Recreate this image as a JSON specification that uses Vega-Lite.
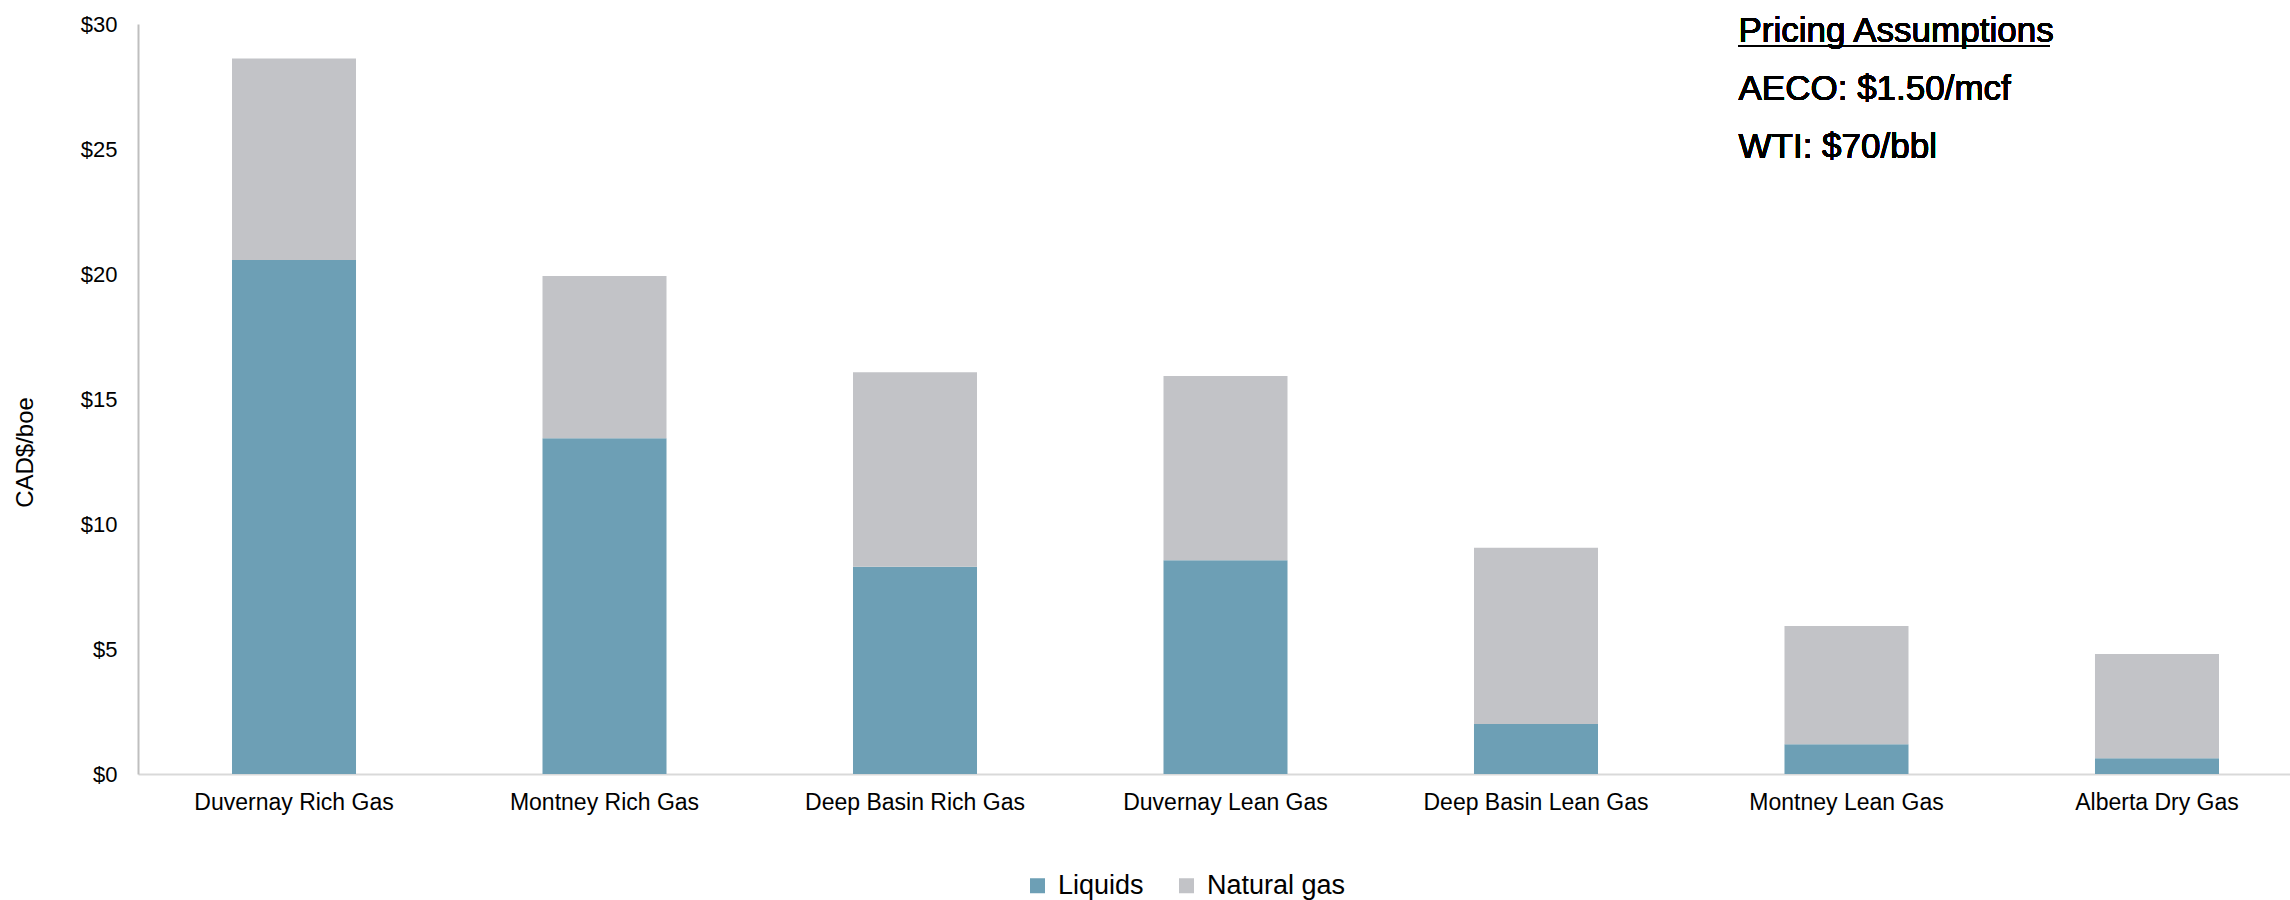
{
  "$schema": "https://vega.github.io/schema/vega-lite/v6.json",
  "autosize": {"type": "none"},
  "padding": {"left": 138, "top": 24, "right": 0, "bottom": 126},
  "width": 2152,
  "height": 750,
  "background": "white",
  "config": {
    "view": {"stroke": null},
    "font": "Liberation Sans",
    "axis": {"labelFont": "Liberation Sans", "titleFont": "Liberation Sans", "labelColor": "#000000", "titleColor": "#000000", "grid": false, "ticks": false},
    "legend": {"labelFont": "Liberation Sans"}
  },
  "datasets": {
    "revenue": [
      {"play": "Duvernay Rich Gas", "stream": "Liquids", "value": 20.56},
      {"play": "Duvernay Rich Gas", "stream": "Natural gas", "value": 8.06},
      {"play": "Montney Rich Gas", "stream": "Liquids", "value": 13.43},
      {"play": "Montney Rich Gas", "stream": "Natural gas", "value": 6.49},
      {"play": "Deep Basin Rich Gas", "stream": "Liquids", "value": 8.29},
      {"play": "Deep Basin Rich Gas", "stream": "Natural gas", "value": 7.78},
      {"play": "Duvernay Lean Gas", "stream": "Liquids", "value": 8.55},
      {"play": "Duvernay Lean Gas", "stream": "Natural gas", "value": 7.37},
      {"play": "Deep Basin Lean Gas", "stream": "Liquids", "value": 2.0},
      {"play": "Deep Basin Lean Gas", "stream": "Natural gas", "value": 7.05},
      {"play": "Montney Lean Gas", "stream": "Liquids", "value": 1.19},
      {"play": "Montney Lean Gas", "stream": "Natural gas", "value": 4.73},
      {"play": "Alberta Dry Gas", "stream": "Liquids", "value": 0.63},
      {"play": "Alberta Dry Gas", "stream": "Natural gas", "value": 4.17}
    ]
  },
  "data": {"name": "revenue"},
  "layer": [
    {
      "mark": {"type": "bar"},
      "encoding": {
        "x": {
          "field": "play",
          "type": "nominal",
          "sort": null,
          "scale": {"paddingInner": 0.6006, "paddingOuter": 0.2657, "align": 0.5697},
          "axis": {
            "title": null,
            "labelAngle": 0,
            "labelFontSize": 23,
            "labelPadding": 17,
            "labelLimit": 400,
            "domainColor": "#d9d9d9",
            "domainWidth": 2
          }
        },
        "y": {
          "field": "value",
          "type": "quantitative",
          "stack": "zero",
          "scale": {"domain": [0, 30], "nice": false},
          "axis": {
            "title": "CAD$/boe",
            "values": [0, 5, 10, 15, 20, 25, 30],
            "labelExpr": "'$' + datum.value",
            "labelFontSize": 22,
            "labelPadding": 21,
            "titleFontSize": 24,
            "titleFontWeight": "normal",
            "titleX": -113,
            "titleY": 428,
            "titleBaseline": "middle",
            "titleAlign": "center",
            "domainColor": "#bfbfbf",
            "domainWidth": 2
          }
        },
        "order": {"field": "stream", "sort": "ascending"},
        "color": {
          "field": "stream",
          "type": "nominal",
          "scale": {"domain": ["Liquids", "Natural gas"], "range": ["#6d9fb5", "#c2c3c7"]},
          "legend": {
            "title": null,
            "orient": "none",
            "direction": "horizontal",
            "legendX": 886,
            "legendY": 848,
            "padding": 0,
            "symbolType": "square",
            "symbolSize": 225,
            "symbolStrokeWidth": 0,
            "symbolOpacity": 1,
            "labelFontSize": 27,
            "labelColor": "#000000",
            "labelOffset": 7,
            "labelLimit": 400,
            "columnPadding": 29
          }
        }
      }
    },
    {
      "mark": {"type": "text", "text": "Pricing Assumptions", "align": "left", "baseline": "alphabetic", "fontSize": 35, "fontWeight": "normal", "font": "Liberation Sans", "color": "#000000", "dx": -108},
      "encoding": {
        "x": {"datum": "Montney Lean Gas", "type": "nominal"},
        "y": {"datum": 29.29, "type": "quantitative"}
      }
    },
    {
      "mark": {"type": "rule", "color": "#000000", "strokeWidth": 2, "xOffset": -108, "x2Offset": -107},
      "encoding": {
        "x": {"datum": "Montney Lean Gas", "type": "nominal"},
        "x2": {"datum": "Alberta Dry Gas"},
        "y": {"datum": 29.12, "type": "quantitative"}
      }
    },
    {
      "mark": {"type": "text", "text": "AECO: $1.50/mcf", "align": "left", "baseline": "alphabetic", "fontSize": 35, "fontWeight": "normal", "font": "Liberation Sans", "color": "#000000", "dx": -108},
      "encoding": {
        "x": {"datum": "Montney Lean Gas", "type": "nominal"},
        "y": {"datum": 26.96, "type": "quantitative"}
      }
    },
    {
      "mark": {"type": "text", "text": "WTI: $70/bbl", "align": "left", "baseline": "alphabetic", "fontSize": 35, "fontWeight": "normal", "font": "Liberation Sans", "color": "#000000", "dx": -108},
      "encoding": {
        "x": {"datum": "Montney Lean Gas", "type": "nominal"},
        "y": {"datum": 24.64, "type": "quantitative"}
      }
    }
  ]
}
